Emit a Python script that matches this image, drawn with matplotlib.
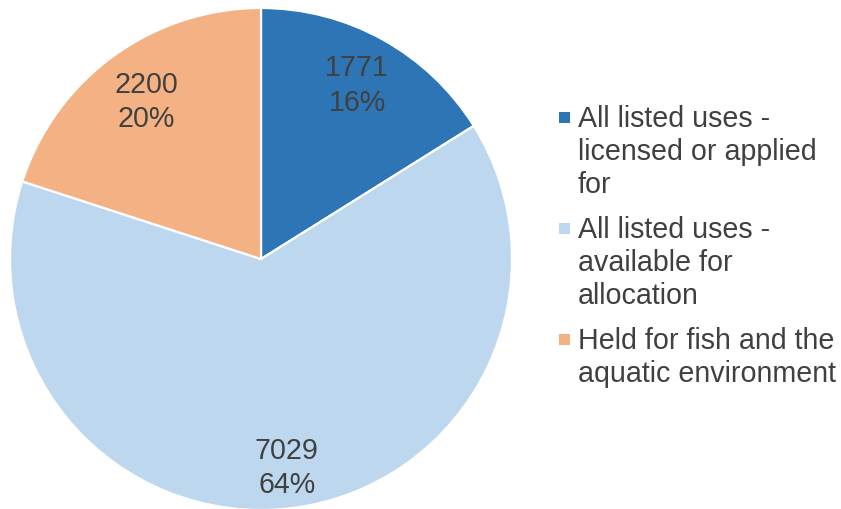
import matplotlib
matplotlib.use("Agg")
import numpy as np
import matplotlib.pyplot as plt
from matplotlib.patches import Rectangle

plt.rcParams['font.family'] = ['Liberation Sans', 'DejaVu Sans']

categories = ["All listed uses -\nlicensed or applied\nfor",
              "All listed uses -\navailable for\nallocation",
              "Held for fish and the\naquatic environment"]
values = [1771, 7029, 2200]
colors = ["#2E75B6", "#BDD7EE", "#F4B183"]
label_dist = [0.79, 0.84, 0.775]
text_color = "#404040"

W, H = 841, 509
fig = plt.figure(figsize=(W / 100, H / 100), dpi=100)
cx, cy, r = 261, 259, 251
ax = fig.add_axes([(cx - r) / W, (H - cy - r) / H, 2 * r / W, 2 * r / H])
ax.set_xlim(-1, 1)
ax.set_ylim(-1, 1)
ax.set_aspect('equal')
ax.axis('off')

total = sum(values)
wedges, texts, autotexts = ax.pie(
    values, colors=colors, startangle=90, counterclock=False, radius=1,
    wedgeprops=dict(edgecolor='white', linewidth=1.6),
    autopct=lambda p: f"{round(p * total / 100):d}\n{p:.0f}%",
    pctdistance=0.8,
    textprops=dict(color=text_color, fontsize=20.6, linespacing=1.28))
for w, t, d in zip(wedges, autotexts, label_dist):
    ang = np.deg2rad((w.theta1 + w.theta2) / 2)
    t.set_position((d * np.cos(ang), d * np.sin(ang)))
ax.set_xlim(-1, 1)
ax.set_ylim(-1, 1)

# legend (manual, marker aligned with first line)
x_text = 578
y = 127
line_gap = 33
item_gap = 12
for lab, col in zip(categories, colors):
    sq = 11
    fig.patches.append(Rectangle((559 / W, (H - (y - 10) - sq / 2) / H), sq / W, sq / H,
                                 transform=fig.transFigure, facecolor=col, edgecolor='none'))
    for ln in lab.split("\n"):
        fig.text(x_text / W, (H - y) / H, ln, color=text_color, fontsize=20.6,
                 ha='left', va='baseline')
        y += line_gap
    y += item_gap

fig.savefig("out.png", dpi=100)
